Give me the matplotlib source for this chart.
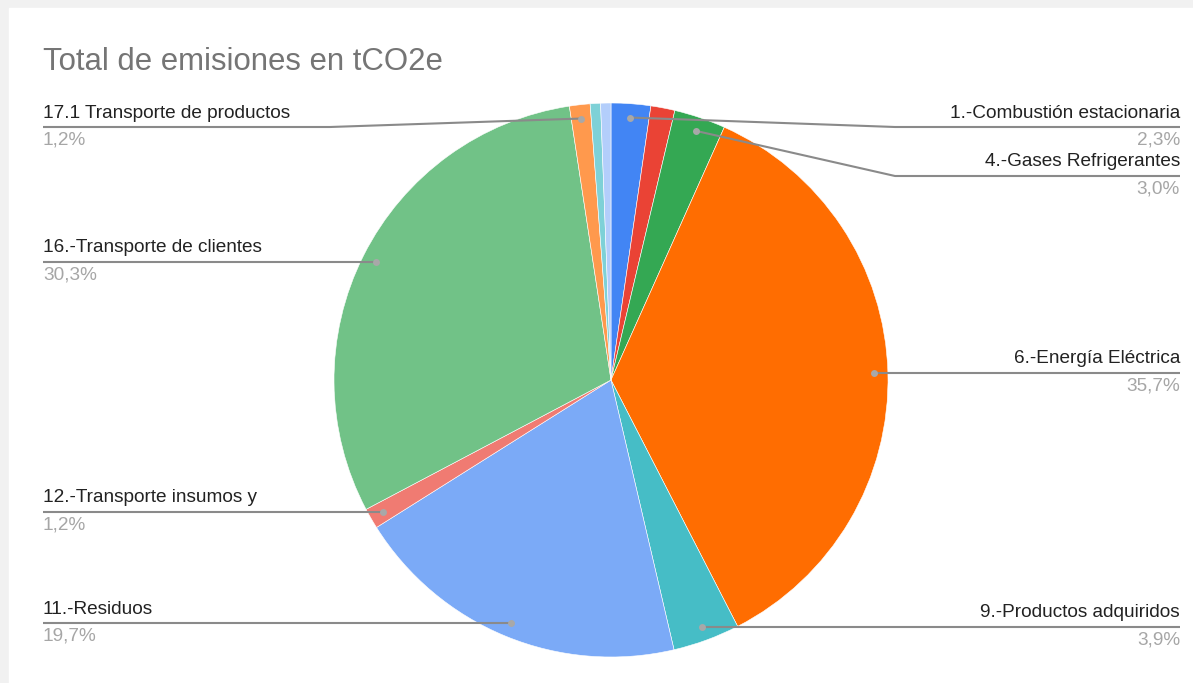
import numpy as np
import matplotlib.pyplot as plt

# data (clockwise from 12 o'clock)
categorias = ['1.-Combustión estacionaria', '2.-Otros', '4.-Gases Refrigerantes',
              '6.-Energía Eléctrica', '9.-Productos adquiridos', '11.-Residuos',
              '12.-Transporte insumos y', '16.-Transporte de clientes',
              '17.1 Transporte de productos', '18.-Otros', '19.-Otros']
porcentajes = [2.3, 1.4, 3.0, 35.7, 3.9, 19.7, 1.2, 30.3, 1.2, 0.6, 0.6]
mostrar = [True, False, True, True, True, True, True, True, True, False, False]
colores = ['#4285f4', '#ea4335', '#34a853', '#ff6d01', '#46bdc6', '#7baaf7',
           '#f07b72', '#71c287', '#ff994d', '#7ed1d7', '#b3cefb']

W, H = 1193, 683
plt.rcParams['font.family'] = ['Liberation Sans', 'DejaVu Sans']
fig = plt.figure(figsize=(W / 100, H / 100), dpi=100)
fig.patch.set_facecolor('#f1f1f1')
ax = fig.add_axes([0, 0, 1, 1])

# white card
ax.add_patch(plt.Rectangle((9, 0), W, H - 8, color='white', zorder=0))

cx, cy, r = 611, H - 380, 277
wedges, _ = ax.pie(porcentajes, colors=colores, startangle=90, counterclock=False,
                   center=(cx, cy), radius=r, frame=True,
                   wedgeprops=dict(edgecolor='white', linewidth=0.4))
ax.set_xlim(0, W)
ax.set_ylim(0, H)
ax.set_aspect('equal')
ax.axis('off')

ax.text(43, H - 62, 'Total de emisiones en tCO2e', fontsize=22.4, color='#757575',
        ha='left', va='center')

# label line heights (pixels from top) where the line is bent
linea_y = {0: 127, 2: 176, 8: 127}
linea_c = '#8a8a8a'
for i, w in enumerate(wedges):
    if not mostrar[i]:
        continue
    ang = np.deg2rad((w.theta1 + w.theta2) / 2)
    px = cx + 0.95 * r * np.cos(ang)
    py = cy + 0.95 * r * np.sin(ang)
    ly = H - linea_y[i] if i in linea_y else py
    derecha = px > cx
    if derecha:
        ex, tx, ha = 895, 1180, 'right'
    else:
        ex, tx, ha = 330, 43, 'left'
    ax.plot([px, ex, tx], [py, ly, ly], color=linea_c, lw=1.5, zorder=3,
            solid_capstyle='butt')
    ax.plot(px, py, 'o', color='#a8a8a8', ms=5, mec='none', zorder=4)
    ax.text(tx, ly + 14, categorias[i], fontsize=13.7, color='#222222',
            ha=ha, va='center')
    ax.text(tx, ly - 13, f'{porcentajes[i]:.1f}%'.replace('.', ','), fontsize=13.7,
            color='#a6a6a6', ha=ha, va='center')

fig.savefig('out.png', dpi=100, facecolor=fig.get_facecolor())
